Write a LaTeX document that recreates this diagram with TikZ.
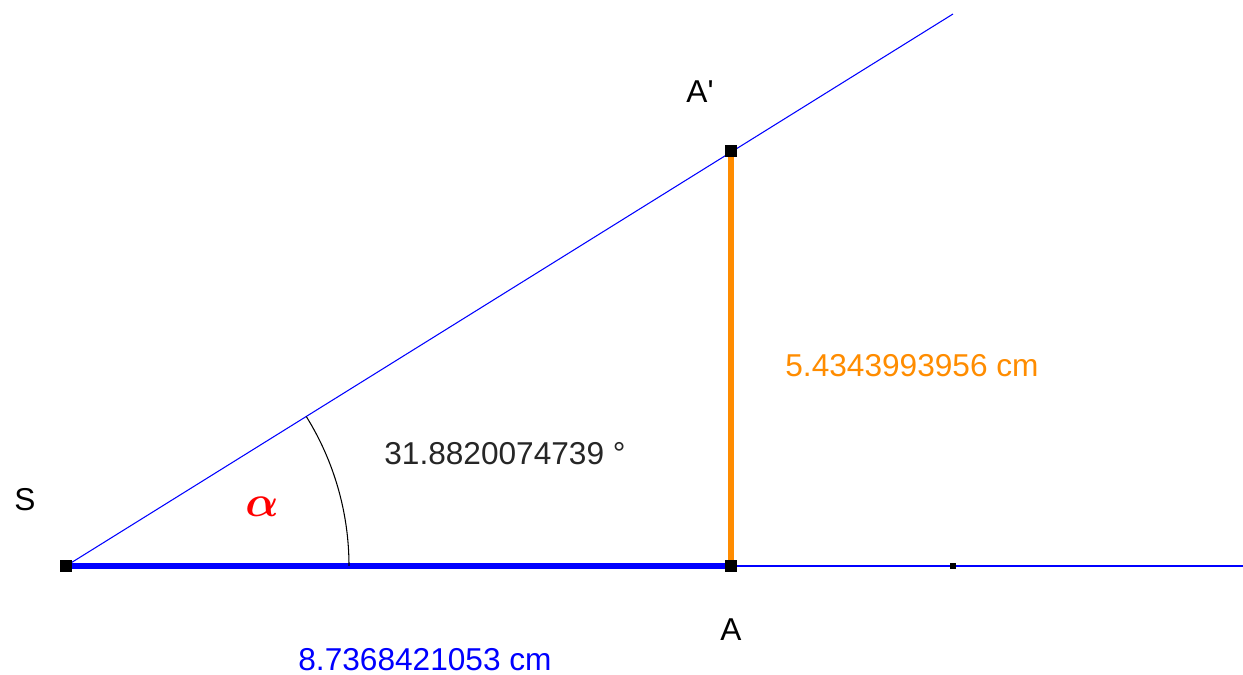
\documentclass[tikz,border=0pt]{standalone}
\usepackage{fontspec}
\setmainfont{Liberation Sans}
\usepackage{amsmath}
\usepackage{xcolor}
\usetikzlibrary{positioning}
\definecolor{geoblue}{RGB}{0,0,255}
\definecolor{geoorange}{RGB}{255,140,0}
\tikzset{
    pt/.style={rectangle, draw=black, fill=black, minimum size=6pt, inner sep=0pt},
    smallpt/.style={rectangle, fill=black, minimum size=3pt, inner sep=0pt},
    label text/.style={font=\fontsize{18}{20}\selectfont, inner sep=0pt}
}

\begin{document}
\begin{tikzpicture}[x=0.02cm, y=0.02cm]
    \useasboundingbox (0,0) rectangle (1243,675);

    \coordinate (S) at (66,109);
    \coordinate (A) at (731,109);
    \coordinate (A') at (731,524);
    \coordinate (P) at (953,109);
    \coordinate (rayend) at (953,661);
    \coordinate (lineend) at (1243,109);

    % lines
    \draw[geoblue, line width=0.6pt] (S) -- (rayend);
    \draw[geoblue, line width=0.6pt] (A) -- (lineend);
    \draw[geoblue, line width=3.2pt] (S) -- (A);
    \draw[geoorange, line width=3pt] (A) -- (A');
    \draw[black, line width=0.6pt] (349,109) arc[start angle=0, end angle=31.882, radius=283];

    % points
    \node[pt] (ptS) at (S) {};
    \node[pt] (ptA) at (A) {};
    \node[pt] (ptA') at (A') {};
    \node[smallpt] (ptP) at (P) {};

    % labels
    \node[label text] (lS) at (25,175) {S};
    \node[label text] (lA') at (700,583) {A\textquotesingle};
    \node[label text] (lA) at (731,45) {A};
    \node[label text, text=geoblue] (lSA) at (425,15) {8.7368421053 cm};
    \node[label text, text=geoorange] (lAA') at (912,309) {5.4343993956 cm};
    \node[label text, text=black!85] (langle) at (505,221) {31.8820074739 °};
    \node[text=red, font=\fontsize{28}{30}\selectfont, inner sep=0pt] (alpha) at (262,168) {$\boldsymbol{\alpha}$};
\end{tikzpicture}
\end{document}
